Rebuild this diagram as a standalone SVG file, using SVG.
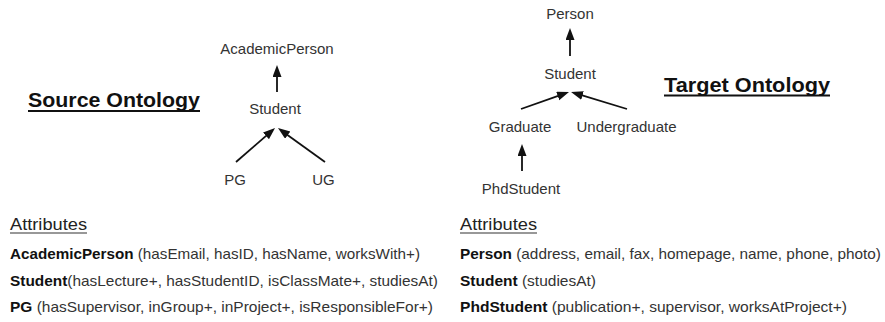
<svg xmlns="http://www.w3.org/2000/svg" width="885" height="322" viewBox="0 0 885 322">
<style>
.lbl{font-family:"Liberation Sans",Arial,sans-serif;font-size:15px;fill:#333;text-anchor:middle}
.ttl{font-family:"Liberation Sans",Arial,sans-serif;font-size:21px;font-weight:bold;fill:#111}
.hdr{font-family:"Liberation Sans",Arial,sans-serif;font-size:17px;fill:#222}
.att{font-family:"Liberation Sans",Arial,sans-serif;font-size:15px;fill:#333}
.att tspan.b{font-weight:bold;fill:#111}
.edge{stroke:#111;stroke-width:1.8;fill:none;marker-end:url(#ah)}
.ul{stroke:#111;stroke-width:1.8}
.ul1{stroke:#333;stroke-width:1.2}
</style>
<defs>
<marker id="ah" markerUnits="userSpaceOnUse" markerWidth="12" markerHeight="10" refX="2" refY="4.5" orient="auto">
<path d="M0,0 L12,4.5 L0,9 z" fill="#111"/>
</marker>
</defs>
<rect width="885" height="322" fill="#fff"/>

<g id="source-title">
<text class="ttl" x="28" y="107" textLength="172" lengthAdjust="spacingAndGlyphs">Source Ontology</text>
<line class="ul" x1="28" y1="111" x2="200" y2="111"/>
</g>
<g id="target-title">
<text class="ttl" x="664" y="92" textLength="166" lengthAdjust="spacingAndGlyphs">Target Ontology</text>
<line class="ul" x1="664" y1="95.5" x2="830" y2="95.5"/>
</g>

<g id="s-academicperson"><text class="lbl" x="277" y="54">AcademicPerson</text></g>
<g id="s-student"><text class="lbl" x="275" y="114">Student</text></g>
<g id="s-pg"><text class="lbl" x="235" y="185">PG</text></g>
<g id="s-ug"><text class="lbl" x="323.5" y="185">UG</text></g>

<g id="t-person"><text class="lbl" x="570" y="19">Person</text></g>
<g id="t-student"><text class="lbl" x="570" y="79">Student</text></g>
<g id="t-graduate"><text class="lbl" x="520" y="132">Graduate</text></g>
<g id="t-undergraduate"><text class="lbl" x="626.5" y="132">Undergraduate</text></g>
<g id="t-phdstudent"><text class="lbl" x="521" y="194">PhdStudent</text></g>

<g id="connectors">
<line class="edge" x1="277" y1="92" x2="277" y2="75"/>
<line class="edge" x1="236" y1="162" x2="267.5" y2="134.6"/>
<line class="edge" x1="325" y1="162" x2="286.1" y2="133.9"/>
<line class="edge" x1="570" y1="56" x2="570" y2="38"/>
<line class="edge" x1="521" y1="109" x2="559.6" y2="95.3"/>
<line class="edge" x1="627" y1="109" x2="580.6" y2="94.9"/>
<line class="edge" x1="522" y1="171" x2="522" y2="154"/>
</g>

<g id="source-attributes">
<text class="hdr" x="10" y="230" textLength="77" lengthAdjust="spacingAndGlyphs">Attributes</text>
<line class="ul1" x1="10" y1="233" x2="87" y2="233"/>
<text class="att" x="10" y="259" textLength="410" lengthAdjust="spacingAndGlyphs"><tspan class="b">AcademicPerson</tspan> (hasEmail, hasID, hasName, worksWith+)</text>
<text class="att" x="10" y="286" textLength="428" lengthAdjust="spacingAndGlyphs"><tspan class="b">Student</tspan>(hasLecture+, hasStudentID, isClassMate+, studiesAt)</text>
<text class="att" x="10" y="312" textLength="423" lengthAdjust="spacingAndGlyphs"><tspan class="b">PG</tspan> (hasSupervisor, inGroup+, inProject+, isResponsibleFor+)</text>
</g>

<g id="target-attributes">
<text class="hdr" x="460" y="230" textLength="77" lengthAdjust="spacingAndGlyphs">Attributes</text>
<line class="ul1" x1="460" y1="233" x2="537" y2="233"/>
<text class="att" x="460" y="259" textLength="421" lengthAdjust="spacingAndGlyphs"><tspan class="b">Person</tspan> (address, email, fax, homepage, name, phone, photo)</text>
<text class="att" x="460" y="286" textLength="136" lengthAdjust="spacingAndGlyphs"><tspan class="b">Student</tspan> (studiesAt)</text>
<text class="att" x="460" y="312" textLength="387" lengthAdjust="spacingAndGlyphs"><tspan class="b">PhdStudent</tspan> (publication+, supervisor, worksAtProject+)</text>
</g>
</svg>
